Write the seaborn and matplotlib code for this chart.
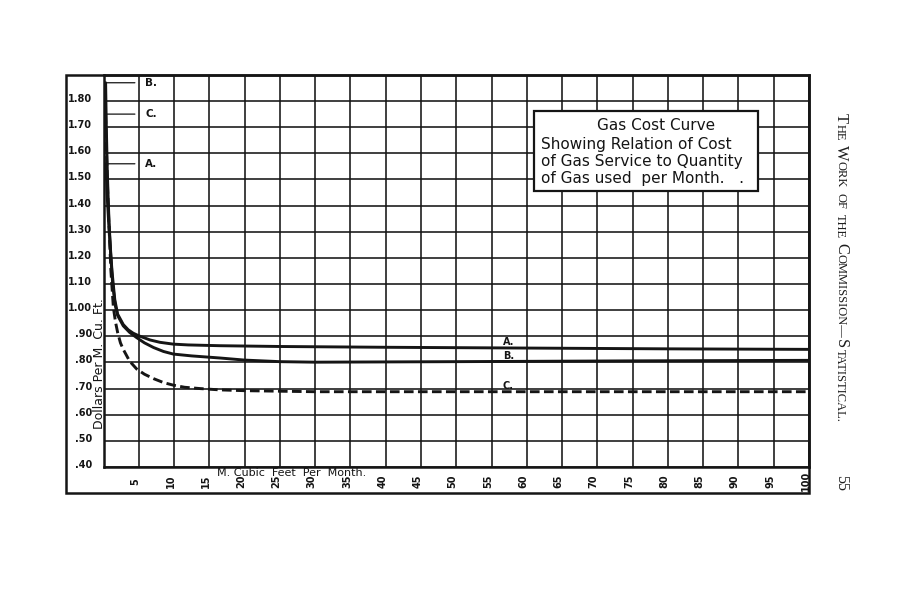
import numpy as np
import pandas as pd
import matplotlib
matplotlib.use("Agg")
import matplotlib.pyplot as plt
import matplotlib.transforms as mtransforms
from matplotlib.patches import Rectangle
import seaborn as sns

# ---------------- data ----------------
curve_names = ["A", "B", "C"]

a_x = [0.35, 0.5, 0.7, 0.9, 1.2, 1.6, 2.0, 2.8, 3.5, 4.2, 5.0, 6.6, 8.0, 9.9,
       12.0, 16.5, 25, 40, 60, 80, 100]
a_y = [1.56, 1.45, 1.35, 1.27, 1.15, 1.04, 0.985, 0.945, 0.925, 0.912, 0.902,
       0.886, 0.877, 0.870, 0.867, 0.864, 0.861, 0.858, 0.855, 0.852, 0.850]

b_x = [0.3, 0.4, 0.55, 0.75, 1.0, 1.3, 1.65, 2.0, 2.8, 3.7, 4.7, 5.8, 7.1, 8.5,
       9.9, 12.5, 16.5, 20, 25, 30, 50, 75, 100]
b_y = [1.87, 1.70, 1.52, 1.36, 1.22, 1.10, 1.02, 0.98, 0.94, 0.915, 0.895,
       0.875, 0.857, 0.842, 0.832, 0.825, 0.817, 0.809, 0.803, 0.801, 0.803,
       0.806, 0.808]

c_x = [0.3, 0.45, 0.6, 0.8, 1.05, 1.4, 1.7, 2.0, 2.4, 2.8, 3.7, 4.7, 5.8, 7.1,
       8.5, 9.9, 11.5, 13.7, 16.5, 20, 30, 50, 75, 100]
c_y = [1.75, 1.58, 1.45, 1.31, 1.15, 1.01, 0.955, 0.915, 0.875, 0.85, 0.805,
       0.775, 0.755, 0.738, 0.723, 0.713, 0.705, 0.700, 0.695, 0.692, 0.688,
       0.688, 0.688, 0.688]

x_ticks = [5, 10, 15, 20, 25, 30, 35, 40, 45, 50, 55, 60, 65, 70, 75, 80, 85,
           90, 95, 100]
x_tick_labels = ["5", "10", "15", "20", "25", "30", "35", "40", "45", "50",
                 "55", "60", "65", "70", "75", "80", "85", "90", "95", "100"]
y_ticks = [0.40, 0.50, 0.60, 0.70, 0.80, 0.90, 1.00, 1.10, 1.20, 1.30, 1.40,
           1.50, 1.60, 1.70, 1.80]
y_tick_labels = [".40", ".50", ".60", ".70", ".80", ".90", "1.00", "1.10",
                 "1.20", "1.30", "1.40", "1.50", "1.60", "1.70", "1.80"]
x_limits = (0, 100)
y_limits = (0.40, 1.90)

title_lines = ["Gas Cost Curve", "Showing Relation of Cost",
               "of Gas Service to Quantity", "of Gas used  per Month.   ."]
x_label = "M. Cubic  Feet  Per  Month."
y_label = "Dollars Per M. Cu. Ft."
right_label_x = 56.6

# ---------------- styling ----------------
sns.set_theme(style="white")
plt.rcParams["font.family"] = ["DejaVu Sans"]
ink = "#151515"

W, H = 910, 600
fig = plt.figure(figsize=(W / 100, H / 100), dpi=100)
fig.patch.set_facecolor("white")

def fx(px):
    return px / W

def fy(py):
    return 1 - py / H

ax_l, ax_r, ax_t, ax_b = 103.5, 809, 74.9, 467
ax = fig.add_axes([fx(ax_l), fy(ax_b), (ax_r - ax_l) / W, (ax_b - ax_t) / H])
ax.set_facecolor("white")

frames = []
for name, xs, ys in zip(curve_names, [a_x, b_x, c_x], [a_y, b_y, c_y]):
    frames.append(pd.DataFrame({"cubic_feet": xs, "cost": ys, "curve": name}))
df = pd.concat(frames, ignore_index=True)

sns.lineplot(data=df, x="cubic_feet", y="cost", hue="curve", style="curve",
             palette={"A": ink, "B": ink, "C": ink},
             dashes={"A": "", "B": "", "C": (3.3, 1.5)},
             estimator=None, sort=False, linewidth=2.1, legend=False, ax=ax,
             zorder=3)

ax.set_xlim(*x_limits)
ax.set_ylim(*y_limits)
ax.set_xlabel("")
ax.set_ylabel("")
ax.set_xticks(x_ticks)
ax.set_yticks(y_ticks)
ax.grid(True, color=ink, linewidth=1.15, zorder=1)
ax.set_axisbelow(True)
for sp in ax.spines.values():
    sp.set_visible(True)
    sp.set_color(ink)
    sp.set_linewidth(1.8)

ax.set_xticklabels(x_tick_labels, rotation=90, fontsize=7, fontweight="bold",
                   color=ink, va="center", ha="center")
ax.set_yticklabels(y_tick_labels, fontsize=7, fontweight="bold", color=ink)
ax.tick_params(axis="x", length=0, pad=10.2)
ax.tick_params(axis="y", length=0, pad=8.3)
for lbl in ax.get_xticklabels():
    lbl.set_transform(lbl.get_transform() +
                      mtransforms.ScaledTranslation(-3.5 / 100, 0, fig.dpi_scale_trans))
for lbl in ax.get_yticklabels():
    lbl.set_transform(lbl.get_transform() +
                      mtransforms.ScaledTranslation(0, 3 / 100, fig.dpi_scale_trans))

# axis captions
ax.text((217 - ax_l) / (ax_r - ax_l), -0.002, x_label, transform=ax.transAxes,
        ha="left", va="top", fontsize=8, color=ink)
ax.text((99.5 - ax_l) / (ax_r - ax_l), (ax_b - 364) / (ax_b - ax_t), y_label,
        transform=ax.transAxes, rotation=90, ha="center", va="center",
        fontsize=9, color=ink, clip_on=False)

# curve labels with leaders at the top and near the middle
for name, xs, ys in zip(curve_names, [a_x, b_x, c_x], [a_y, b_y, c_y]):
    ax.annotate(f"{name}.", xy=(xs[0] + 0.05, ys[0]), xytext=(5.9, ys[0]),
                ha="left", va="center", fontsize=7.5, fontweight="bold", color=ink,
                arrowprops=dict(arrowstyle="-", color=ink, lw=0.9,
                                shrinkA=5, shrinkB=0))
    y_here = float(np.interp(right_label_x, xs, ys))
    ax.text(right_label_x, y_here + 0.002, f"{name}.", ha="left", va="bottom",
            fontsize=7, fontweight="bold", color=ink, zorder=4)

# title box
bx0, bx1, by0, by1 = 534, 758, 111, 191
ax.add_patch(Rectangle(((bx0 - ax_l) / (ax_r - ax_l), (ax_b - by1) / (ax_b - ax_t)),
                       (bx1 - bx0) / (ax_r - ax_l), (by1 - by0) / (ax_b - ax_t),
                       transform=ax.transAxes, facecolor="white", edgecolor=ink,
                       linewidth=1.6, zorder=5))
idt = mtransforms.IdentityTransform()
fig.text(656, H - 130, title_lines[0], transform=idt, ha="center",
         va="baseline", fontsize=11, color=ink, zorder=6)
for i, line in enumerate(title_lines[1:]):
    fig.text(541, H - (149.5 + i * 16.9), line, transform=idt, ha="left",
             va="baseline", fontsize=11, color=ink, zorder=6)

# outer frame
fig.add_artist(Rectangle((fx(66), fy(493)), (ax_r - 66) / W, (493 - ax_t) / H,
                         transform=fig.transFigure, facecolor="none",
                         edgecolor=ink, linewidth=1.8))

# running head of the page (small caps, rotated)
renderer = fig.canvas.get_renderer()
big, small = 11.8, 9.0
pieces = [("T", big), ("HE", small), (None, 4.5), ("W", big), ("ORK", small),
          (None, 4.5), ("OF", small), (None, 4.5), ("THE", small), (None, 4.5),
          ("C", big), ("OMMISSION—", small), ("S", big), ("TATISTICAL.", small)]
yy = H - 113
for txt, size in pieces:
    if txt is None:
        yy -= size
        continue
    t = fig.text(837, yy, txt, transform=idt, rotation=-90, rotation_mode="anchor",
                 ha="left", va="baseline", fontsize=size,
                 family=["Liberation Serif", "DejaVu Serif"], color="#1e1e1e")
    bb = t.get_window_extent(renderer)
    yy -= bb.height + 0.6
fig.text(837, H - 475, "55", transform=idt, rotation=-90, rotation_mode="anchor",
         ha="left", va="baseline", fontsize=11.5,
         family=["Liberation Serif", "DejaVu Serif"], color="#1e1e1e")

fig.savefig("out.png", dpi=100, facecolor="white")
